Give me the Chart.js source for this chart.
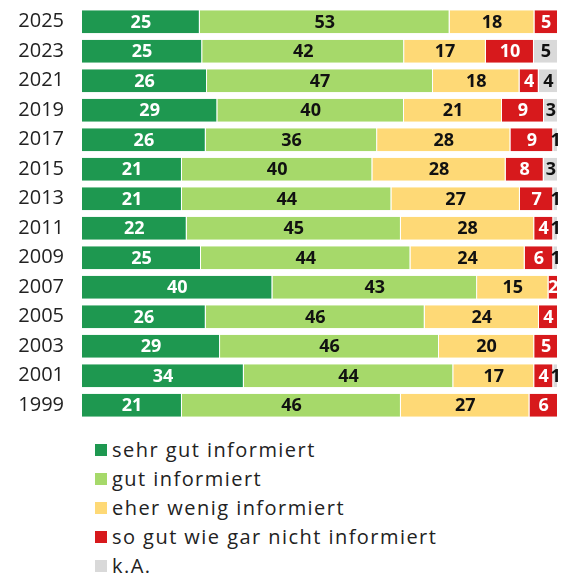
<!DOCTYPE html>
<html>
<head>
<meta charset="utf-8">
<script src="https://cdn.jsdelivr.net/npm/chart.js@4"></script>
<style>
  html, body { margin: 0; padding: 0; background: #fff; }
  canvas { display: block; }
  #legend { margin: 10px 0 0 95px; padding: 0; list-style: none; font-family: "Open Sans", sans-serif; font-size: 20px; letter-spacing: 1.45px; color: #222; }
  #legend li { display: flex; align-items: center; height: 29px; }
  #legend span.box { display: inline-block; width: 12px; height: 12px; margin-right: 5px; }
</style>
</head>
<body>
<canvas id="chart" width="563" height="425"></canvas>
<ul id="legend"></ul>
<script>
// ====== Data
const years = ["2025", "2023", "2021", "2019", "2017", "2015", "2013", "2011", "2009", "2007", "2005", "2003", "2001", "1999"];
const sehrGut = [25, 25, 26, 29, 26, 21, 21, 22, 25, 40, 26, 29, 34, 21];
const gut = [53, 42, 47, 40, 36, 40, 44, 45, 44, 43, 46, 46, 44, 46];
const eherWenig = [18, 17, 18, 21, 28, 28, 27, 28, 24, 15, 24, 20, 17, 27];
const garNicht = [5, 10, 4, 9, 9, 8, 7, 4, 6, 2, 4, 5, 4, 6];
const keineAngabe = [0, 5, 4, 3, 1, 3, 1, 1, 1, 0, 0, 0, 1, 0];

const series = [
  { label: "sehr gut informiert", values: sehrGut, color: "#1e9850", text: "#fff" },
  { label: "gut informiert", values: gut, color: "#a6d96a", text: "#111" },
  { label: "eher wenig informiert", values: eherWenig, color: "#fed976", text: "#111" },
  { label: "so gut wie gar nicht informiert", values: garNicht, color: "#d7191c", text: "#fff" },
  { label: "k.A.", values: keineAngabe, color: "#d9d9d9", text: "#111" },
];

// each row is drawn as share of its own total (bars all end at the same edge)
const rowTotals = years.map((_, i) => series.reduce((s, d) => s + d.values[i], 0));

// ====== Plugin: values inside the segments
const valueLabels = {
  id: "valueLabels",
  afterDatasetsDraw(chart) {
    const { ctx } = chart;
    ctx.save();
    ctx.font = "bold 18px 'Open Sans', sans-serif";
    ctx.textAlign = "center";
    ctx.textBaseline = "middle";
    chart.data.datasets.forEach((ds, di) => {
      const meta = chart.getDatasetMeta(di);
      meta.data.forEach((bar, i) => {
        const v = ds.raw[i];
        if (!v) return;
        const x = (bar.x + bar.base) / 2;
        ctx.fillStyle = ds.textColor;
        ctx.fillText(String(v), x, bar.y + 1);
      });
    });
    ctx.restore();
  },
};

const chart = new Chart(document.getElementById("chart"), {
  type: "bar",
  data: {
    labels: years,
    datasets: series.map(s => ({
      label: s.label,
      raw: s.values,
      textColor: s.text,
      data: s.values.map((v, i) => v / rowTotals[i] * 100),
      backgroundColor: s.color,
      borderColor: "#fff",
      borderWidth: { right: 1, left: 0, top: 0, bottom: 0 },
      borderSkipped: false,
      categoryPercentage: 1,
      barPercentage: 0.78,
    })),
  },
  options: {
    indexAxis: "y",
    responsive: false,
    animation: false,
    layout: { padding: { top: 7, bottom: 5, right: 5, left: 0 } },
    plugins: {
      legend: { display: false },
      tooltip: { enabled: false },
    },
    scales: {
      x: { stacked: true, min: 0, max: 100, display: false },
      y: {
        stacked: true,
        grid: { display: false },
        border: { display: false },
        ticks: { color: "#222", font: { family: "'Open Sans', sans-serif", size: 20 }, padding: 10 },
        afterFit: (scale) => {
          // fixed axis width, no extra space above/below the bars
          scale.width = 82;
          scale.paddingTop = 0;
          scale.paddingBottom = 0;
        },
      },
    },
  },
  plugins: [valueLabels],
});

// ====== HTML legend, one entry per line
const legend = document.getElementById("legend");
chart.data.datasets.forEach(ds => {
  const li = document.createElement("li");
  const box = document.createElement("span");
  box.className = "box";
  box.style.background = ds.backgroundColor;
  li.appendChild(box);
  li.appendChild(document.createTextNode(ds.label));
  legend.appendChild(li);
});
</script>
</body>
</html>
